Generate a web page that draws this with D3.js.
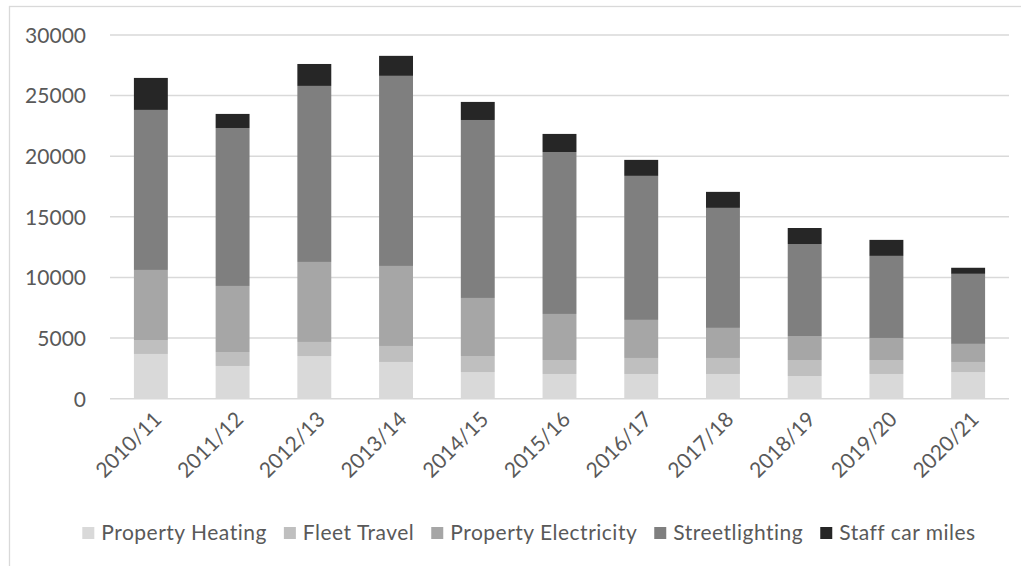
<!DOCTYPE html>
<html>
<head>
<meta charset="utf-8">
<script src="https://cdn.jsdelivr.net/npm/d3@7"></script>
<style>
  html, body { margin: 0; padding: 0; background: #ffffff; }
  svg { display: block; }
  text { font-family: Lato, "Open Sans", sans-serif; fill: #595959; }
</style>
</head>
<body>
<svg id="chart" width="1021" height="566"></svg>
<script>
const years = ["2010/11","2011/12","2012/13","2013/14","2014/15","2015/16","2016/17","2017/18","2018/19","2019/20","2020/21"];
const seriesNames = ["Property Heating","Fleet Travel","Property Electricity","Streetlighting","Staff car miles"];
const propertyHeating     = [3690, 2700, 3520, 3030, 2200, 2040, 2040, 2040, 1870, 2040, 2200];
const fleetTravel         = [1150, 1150, 1160, 1320, 1320, 1150, 1320, 1320, 1320, 1150,  830];
const propertyElectricity = [5780, 5450, 6600, 6600, 4790, 3800, 3140, 2480, 1980, 1820, 1490];
const streetlighting      = [13200, 13030, 14520, 15680, 14680, 13360, 11880, 9900, 7590, 6770, 5780];
const staffCarMiles       = [2640, 1160, 1810, 1650, 1490, 1490, 1320, 1320, 1320, 1320, 500];
const yTicks = [0, 5000, 10000, 15000, 20000, 25000, 30000];
const colors = ["#d9d9d9", "#bfbfbf", "#a6a6a6", "#7f7f7f", "#262626"];

const seriesValues = [propertyHeating, fleetTravel, propertyElectricity, streetlighting, staffCarMiles];
const rows = years.map((y, i) => {
  const r = { year: y };
  seriesNames.forEach((s, j) => r[s] = seriesValues[j][i]);
  return r;
});

const svg = d3.select("#chart");

// outer chart border (partly outside the picture)
svg.append("rect")
  .attr("x", 9.5).attr("y", 6.5)
  .attr("width", 1100).attr("height", 600)
  .attr("fill", "none").attr("stroke", "#d9d9d9").attr("stroke-width", 1.3);

const plot = { left: 110, right: 1009, top: 35, bottom: 398.7 };

const x = d3.scaleBand().domain(years).range([plot.left, plot.right]).paddingInner(0.585).paddingOuter(0.2925);
const y = d3.scaleLinear().domain([0, 30000]).range([plot.bottom, plot.top]);

// gridlines
svg.append("g")
  .selectAll("line").data(yTicks).join("line")
  .attr("x1", plot.left).attr("x2", plot.right)
  .attr("y1", d => y(d)).attr("y2", d => y(d))
  .attr("stroke", "#d9d9d9").attr("stroke-width", 1.5);

// y axis labels
const yAxis = d3.axisLeft(y).tickValues(yTicks).tickSize(0).tickPadding(0).tickFormat(d3.format("d"));
const yg = svg.append("g").attr("transform", "translate(86,0)").call(yAxis);
yg.select(".domain").remove();
yg.selectAll("text").attr("font-size", 21).attr("fill", "#595959")
  .style("font-family", "Lato, sans-serif").attr("dy", "0.35em");

// stacked bars
const stack = d3.stack().keys(seriesNames);
const stacked = stack(rows);
svg.append("g").selectAll("g").data(stacked).join("g")
  .attr("fill", (d, i) => colors[i])
  .selectAll("rect").data(d => d).join("rect")
  .attr("x", d => x(d.data.year))
  .attr("width", x.bandwidth())
  .attr("y", d => y(d[1]))
  .attr("height", d => y(d[0]) - y(d[1]));

// x axis labels (rotated)
const xAxis = d3.axisBottom(x).tickSize(0).tickPadding(0);
const xg = svg.append("g").attr("transform", `translate(0,${plot.bottom})`).call(xAxis);
xg.select(".domain").remove();
xg.selectAll("text")
  .attr("font-size", 21).attr("fill", "#595959")
  .style("font-family", "Lato, sans-serif")
  .attr("text-anchor", "end")
  .attr("y", 0).attr("dy", 0)
  .attr("transform", "translate(12,22) rotate(-45)");

// legend
const legend = svg.append("g");
const items = legend.selectAll("g").data(seriesNames).join("g");
items.append("rect").attr("width", 12).attr("height", 12).attr("y", -6)
  .attr("fill", (d, i) => colors[i]);
items.append("text").attr("x", 19).attr("dy", "0.35em")
  .attr("font-size", 21).style("letter-spacing", "0.5px").text(d => d);
const widths = [];
items.each(function() {
  const w = 19 + d3.select(this).select("text").node().getComputedTextLength();
  widths.push(w);
});
const gap = 17;
const total = d3.sum(widths) + gap * (widths.length - 1);
let start = 529 - total / 2;
items.attr("transform", (d, i) => {
  const t = `translate(${start},533)`;
  start += widths[i] + gap;
  return t;
});
</script>
</body>
</html>
